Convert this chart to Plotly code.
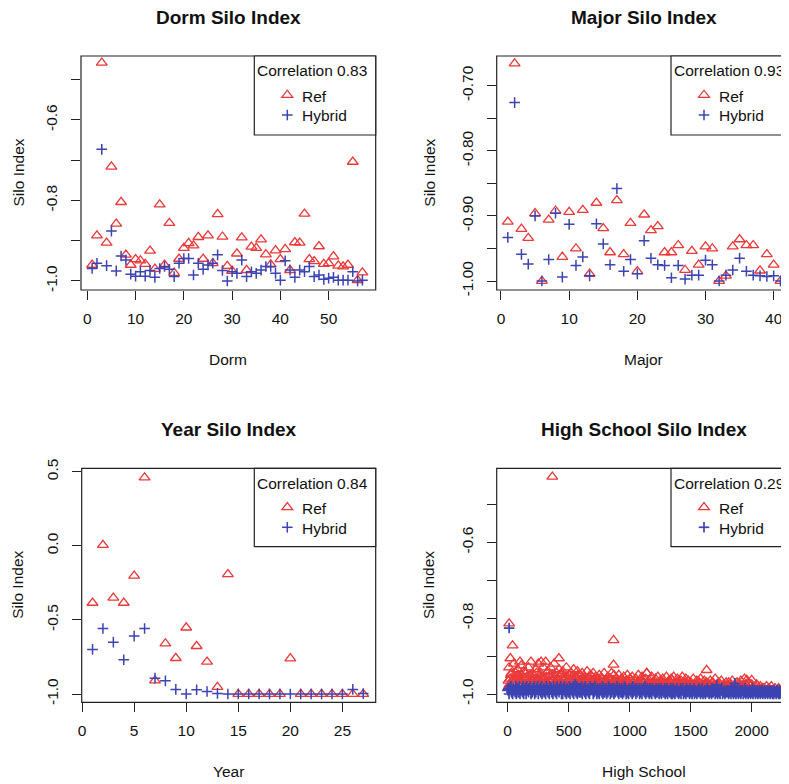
import plotly.graph_objects as go

# The page places the figure 8 px in from the top-left corner (body margin),
# so the figure is 8 px smaller and all pixel positions are shifted by 8.
WIN_W, WIN_H = 789, 784
OFF = 8
W, H = WIN_W - OFF, WIN_H - OFF
FONT = "Liberation Sans, Arial, Helvetica, sans-serif"
RED = "#eb3838"
BLUE = "#3b44b2"

# ---------------- data ----------------
dorm_x = list(range(1, 58))
dorm_ref = [-0.960, -0.887, -0.458, -0.905, -0.716, -0.858, -0.804, -0.935, -0.960, -0.946,
            -0.949, -0.958, -0.925, -0.970, -0.810, -0.960, -0.856, -0.980, -0.945, -0.918,
            -0.906, -0.912, -0.891, -0.945, -0.887, -0.956, -0.834, -0.890, -0.963, -0.975,
            -0.932, -0.892, -0.973, -0.915, -0.918, -0.897, -0.934, -0.959, -0.924, -0.946,
            -0.921, -0.973, -0.904, -0.905, -0.833, -0.946, -0.951, -0.914, -0.958, -0.956,
            -0.939, -0.962, -0.964, -0.960, -0.704, -0.998, -0.979]
dorm_hyb = [-0.969, -0.956, -0.673, -0.962, -0.876, -0.975, -0.938, -0.948, -0.983, -0.988,
            -0.977, -0.988, -0.974, -0.991, -0.969, -0.964, -0.971, -0.989, -0.956, -0.944,
            -0.944, -0.985, -0.956, -0.971, -0.960, -0.956, -0.935, -0.974, -1.000, -0.977,
            -0.981, -0.948, -0.989, -0.977, -0.981, -0.973, -0.964, -0.964, -0.981, -0.998,
            -0.950, -0.973, -0.991, -0.973, -0.977, -0.964, -0.989, -0.985, -0.996, -0.993,
            -0.991, -0.998, -0.998, -0.998, -0.977, -1.000, -0.998]

major_x = list(range(1, 42))
major_ref = [-0.909, -0.666, -0.920, -0.934, -0.896, -1.000, -0.906, -0.892, -0.963, -0.894,
             -0.950, -0.891, -0.989, -0.880, -0.919, -0.956, -0.876, -0.959, -0.911, -0.985,
             -0.898, -0.922, -0.916, -0.956, -0.956, -0.945, -0.983, -0.954, -0.975, -0.947,
             -0.950, -1.000, -0.992, -0.947, -0.936, -0.945, -0.945, -0.984, -0.959, -0.975,
             -1.000]
major_hyb = [-0.933, -0.726, -0.959, -0.974, -0.900, -1.000, -0.967, -0.896, -0.994, -0.913,
             -0.976, -0.963, -0.992, -0.912, -0.943, -0.975, -0.858, -0.985, -0.967, -0.989,
             -0.938, -0.965, -0.975, -0.976, -0.995, -0.976, -0.997, -0.991, -0.991, -0.968,
             -0.975, -1.000, -0.991, -0.983, -0.965, -0.985, -0.991, -0.992, -0.993, -0.992,
             -1.000]

year_x = list(range(1, 28))
year_ref = [-0.385, 0.005, -0.351, -0.385, -0.202, 0.461, -0.909, -0.659, -0.758, -0.552,
            -0.677, -0.783, -0.953, -0.192, -1.000, -1.000, -1.000, -1.000, -1.000, -0.760,
            -1.000, -1.000, -1.000, -1.000, -1.000, -1.000, -1.000]
year_hyb = [-0.699, -0.558, -0.650, -0.769, -0.609, -0.558, -0.893, -0.911, -0.969, -1.000,
            -0.971, -0.983, -0.996, -1.000, -1.000, -1.000, -1.000, -1.000, -1.000, -1.000,
            -1.000, -1.000, -1.000, -1.000, -1.000, -0.969, -0.997]

# High school: values at two interleaved sets of schools,
# plus the visible outliers
hs_x_a = list(range(1, 2242, 10))
hs_ref_a = [
    -0.985, -0.930, -0.960, -0.945, -0.970, -0.920, -0.955, -0.990, -0.935, -0.950, -0.965, -0.925, -0.975, -0.940, -0.960,
    -0.945, -0.980, -0.930, -0.955, -0.915, -0.965, -0.950, -0.985, -0.935, -0.960, -0.920, -0.970, -0.945, -0.955, -0.930,
    -0.960, -0.915, -0.975, -0.940, -0.955, -0.930, -0.965, -0.950, -0.920, -0.985, -0.945, -0.960, -0.935, -0.970, -0.950,
    -0.940, -0.965, -0.955, -0.930, -0.980, -0.950, -0.960, -0.945, -0.970, -0.935, -0.990, -0.955, -0.940, -0.965, -0.950,
    -0.965, -0.945, -0.975, -0.955, -0.985, -0.940, -0.960, -0.970, -0.950, -0.980, -0.945, -0.965, -0.955, -0.975, -0.960,
    -0.950, -0.970, -0.960, -0.985, -0.945, -0.965, -0.975, -0.955, -0.990, -0.960, -0.945, -0.970, -0.950, -0.980, -0.960,
    -0.965, -0.950, -0.980, -0.960, -0.970, -0.955, -0.985, -0.965, -0.950, -0.975, -0.960, -0.990, -0.955, -0.970, -0.965,
    -0.960, -0.975, -0.950, -0.985, -0.965, -0.955, -0.970, -0.980, -0.960, -0.945, -0.975, -0.965, -0.990, -0.955, -0.970,
    -0.970, -0.960, -0.985, -0.955, -0.975, -0.965, -0.990, -0.960, -0.970, -0.980, -0.955, -0.975, -0.965, -0.985, -0.960,
    -0.965, -0.955, -0.980, -0.970, -0.960, -0.990, -0.975, -0.965, -0.955, -0.985, -0.970, -0.960, -0.980, -0.965, -0.975,
    -0.970, -0.985, -0.960, -0.975, -0.990, -0.965, -0.980, -0.970, -0.960, -0.985, -0.975, -0.965, -0.990, -0.970, -0.980,
    -0.975, -0.965, -0.985, -0.970, -0.980, -0.960, -0.990, -0.975, -0.970, -0.985, -0.965, -0.980, -0.975, -0.990, -0.970,
    -0.980, -0.970, -0.990, -0.975, -0.965, -0.985, -0.975, -0.980, -0.970, -0.990, -0.975, -0.965, -0.985, -0.980, -0.960,
    -0.975, -0.985, -0.970, -0.990, -0.980, -0.975, -0.985, -0.995, -0.980, -0.975, -0.990, -0.985, -0.980, -0.990, -0.985,
    -0.985, -0.990, -0.980, -0.995, -0.985, -0.990, -0.980, -0.995, -0.990, -0.985, -0.995, -0.990, -0.985, -0.995, -1.000]
hs_hyb_a = [
    -0.990, -1.000, -0.985, -0.995, -1.000, -0.990, -0.995, -1.000, -0.985, -0.995, -1.000, -0.990, -0.995, -1.000, -0.990,
    -1.000, -0.990, -0.995, -0.985, -1.000, -0.995, -0.990, -1.000, -0.995, -0.985, -1.000, -0.990, -0.995, -1.000, -0.990,
    -0.995, -1.000, -0.990, -0.995, -1.000, -0.985, -0.995, -1.000, -0.990, -0.995, -1.000, -0.990, -0.995, -0.985, -1.000,
    -1.000, -0.990, -0.995, -1.000, -0.990, -0.995, -1.000, -0.985, -0.995, -1.000, -0.990, -0.995, -1.000, -0.990, -0.995,
    -0.995, -1.000, -0.990, -0.995, -1.000, -0.990, -0.995, -1.000, -0.990, -0.985, -1.000, -0.995, -0.990, -1.000, -0.995,
    -1.000, -0.990, -0.995, -1.000, -0.995, -0.990, -1.000, -0.995, -0.990, -1.000, -0.995, -0.985, -1.000, -0.995, -0.990,
    -0.995, -1.000, -0.990, -0.995, -1.000, -0.995, -0.990, -1.000, -0.995, -1.000, -0.990, -0.995, -1.000, -0.995, -0.990,
    -1.000, -0.995, -0.990, -1.000, -0.995, -1.000, -0.990, -0.995, -1.000, -0.995, -0.990, -1.000, -0.995, -1.000, -0.990,
    -0.995, -1.000, -0.995, -0.990, -1.000, -0.995, -1.000, -0.990, -0.995, -1.000, -0.995, -1.000, -0.990, -0.995, -1.000,
    -1.000, -0.995, -1.000, -0.990, -0.995, -1.000, -0.995, -1.000, -0.990, -1.000, -0.995, -1.000, -0.995, -0.990, -1.000,
    -0.995, -1.000, -0.990, -1.000, -0.995, -1.000, -0.995, -0.990, -1.000, -0.995, -1.000, -0.995, -1.000, -0.990, -0.995,
    -1.000, -0.995, -1.000, -0.995, -0.990, -1.000, -0.995, -1.000, -0.995, -1.000, -0.990, -1.000, -0.995, -1.000, -0.995,
    -0.995, -1.000, -0.995, -1.000, -0.990, -1.000, -0.995, -1.000, -0.995, -1.000, -0.995, -1.000, -0.990, -1.000, -0.995,
    -1.000, -0.995, -1.000, -0.995, -1.000, -0.995, -1.000, -0.990, -1.000, -0.995, -1.000, -0.995, -1.000, -0.995, -1.000,
    -0.995, -1.000, -0.995, -1.000, -0.995, -1.000, -0.995, -1.000, -1.000, -0.995, -1.000, -0.995, -1.000, -1.000, -0.995]
hs_x_b = list(range(6, 2242, 10))
hs_ref_b = [
    -0.965, -0.975, -0.950, -0.985, -0.960, -0.970, -0.945, -0.980, -0.955, -0.990, -0.965, -0.950, -0.975, -0.960, -0.985,
    -0.955, -0.970, -0.985, -0.950, -0.965, -0.975, -0.960, -0.990, -0.945, -0.970, -0.980, -0.955, -0.965, -0.985, -0.960,
    -0.970, -0.955, -0.980, -0.965, -0.950, -0.985, -0.960, -0.975, -0.990, -0.955, -0.970, -0.965, -0.980, -0.950, -0.975,
    -0.960, -0.985, -0.970, -0.955, -0.975, -0.990, -0.965, -0.955, -0.980, -0.970, -0.960, -0.985, -0.950, -0.975, -0.965,
    -0.975, -0.965, -0.985, -0.960, -0.970, -0.990, -0.955, -0.980, -0.965, -0.975, -0.985, -0.960, -0.970, -0.990, -0.965,
    -0.980, -0.970, -0.960, -0.990, -0.975, -0.965, -0.985, -0.970, -0.960, -0.980, -0.990, -0.965, -0.975, -0.985, -0.970,
    -0.975, -0.985, -0.965, -0.980, -0.990, -0.970, -0.975, -0.985, -0.965, -0.990, -0.975, -0.980, -0.970, -0.985, -0.975,
    -0.985, -0.970, -0.980, -0.990, -0.975, -0.965, -0.985, -0.980, -0.990, -0.970, -0.985, -0.975, -0.980, -0.990, -0.975,
    -0.980, -0.990, -0.975, -0.985, -0.970, -0.980, -0.990, -0.985, -0.975, -0.980, -0.995, -0.985, -0.975, -0.990, -0.980,
    -0.985, -0.975, -0.990, -0.980, -0.985, -0.995, -0.975, -0.985, -0.990, -0.980, -0.975, -0.990, -0.985, -0.980, -0.995,
    -0.980, -0.990, -0.985, -0.975, -0.995, -0.985, -0.980, -0.990, -0.985, -0.995, -0.980, -0.990, -0.985, -0.975, -0.990,
    -0.985, -0.995, -0.980, -0.990, -0.985, -0.995, -0.990, -0.980, -0.985, -0.995, -0.990, -0.985, -0.980, -0.995, -0.990,
    -0.990, -0.985, -0.995, -0.980, -0.990, -0.995, -0.985, -0.990, -0.995, -0.985, -0.990, -0.980, -0.995, -0.990, -0.985,
    -0.995, -0.990, -0.985, -0.995, -0.990, -1.000, -0.990, -0.985, -0.995, -0.990, -1.000, -0.990, -0.995, -0.985, -0.990,
    -0.995, -0.990, -1.000, -0.995, -0.990, -1.000, -0.995, -0.990, -1.000, -0.995, -1.000, -0.990, -0.995, -1.000]
hs_hyb_b = [
    -0.985, -0.990, -0.980, -0.995, -0.985, -0.990, -0.980, -0.985, -0.995, -0.980, -0.990, -0.985, -0.980, -0.990, -0.985,
    -0.980, -0.990, -0.985, -0.980, -0.995, -0.985, -0.980, -0.990, -0.985, -0.980, -0.990, -0.985, -0.980, -0.995, -0.985,
    -0.990, -0.980, -0.985, -0.990, -0.980, -0.985, -0.995, -0.980, -0.990, -0.985, -0.980, -0.990, -0.985, -0.980, -0.990,
    -0.985, -0.980, -0.990, -0.985, -0.995, -0.980, -0.985, -0.990, -0.980, -0.985, -0.990, -0.980, -0.985, -0.995, -0.985,
    -0.980, -0.990, -0.985, -0.980, -0.990, -0.985, -0.995, -0.980, -0.985, -0.990, -0.985, -0.980, -0.990, -0.985, -0.990,
    -0.985, -0.990, -0.980, -0.985, -0.995, -0.985, -0.990, -0.980, -0.985, -0.990, -0.985, -0.995, -0.985, -0.990, -0.980,
    -0.990, -0.985, -0.995, -0.985, -0.990, -0.980, -0.985, -0.990, -0.995, -0.985, -0.990, -0.985, -0.980, -0.990, -0.985,
    -0.985, -0.990, -0.985, -0.995, -0.985, -0.990, -0.985, -0.980, -0.990, -0.985, -0.995, -0.985, -0.990, -0.985, -0.990,
    -0.990, -0.985, -0.995, -0.985, -0.990, -0.985, -0.990, -0.995, -0.985, -0.990, -0.985, -0.990, -0.995, -0.985, -0.990,
    -0.985, -0.990, -0.995, -0.985, -0.990, -0.995, -0.985, -0.990, -0.985, -0.995, -0.990, -0.985, -0.990, -0.995, -0.985,
    -0.990, -0.995, -0.985, -0.990, -0.995, -0.990, -0.985, -0.995, -0.990, -0.985, -0.995, -0.990, -0.995, -0.985, -0.990,
    -0.995, -0.990, -0.985, -0.995, -0.990, -0.995, -0.985, -0.990, -0.995, -0.990, -0.985, -0.995, -0.990, -0.995, -0.990,
    -0.990, -0.995, -0.990, -0.985, -0.995, -0.990, -0.995, -0.990, -0.985, -0.995, -0.990, -0.995, -0.990, -0.995, -0.985,
    -0.995, -0.990, -0.995, -0.990, -0.995, -0.985, -0.995, -0.990, -0.995, -0.990, -0.995, -0.990, -0.995, -0.990, -0.995,
    -0.990, -0.995, -0.990, -0.995, -0.990, -0.995, -0.990, -0.995, -0.990, -0.995, -0.990, -0.995, -0.990, -0.995]
hs_ref_out_x = [366, 12, 40, 22, 101, 274, 420, 868, 868, 1139, 1631, 1960, 2000]
hs_ref_out = [-0.427, -0.814, -0.872, -0.906, -0.915, -0.915, -0.906, -0.858, -0.923, -0.945, -0.937, -0.963, -0.963]
hs_hyb_out_x = [12, 552, 1713, 1863]
hs_hyb_out = [-0.826, -0.974, -0.976, -0.972]

titles = ["Dorm Silo Index", "Major Silo Index", "Year Silo Index", "High School Silo Index"]
xlabels = ["Dorm", "Major", "Year", "High School"]
correlations = ["0.83", "0.93", "0.84", "0.29"]


# ---------------- layout geometry (window pixels) ----------------
def PX(p):
    return (p - OFF) / W


def PY(p):
    return 1 - (p - OFF) / H


panels = [
    dict(x=dorm_x, ref=dorm_ref, hyb=dorm_hyb, hw=1.5,
         box=(81, 56, 375.7, 290), right_clip=False,
         xr=[-1.305, 59.75], yr=[-1.0224, -0.441],
         xt=[0, 10, 20, 30, 40, 50],
         yt=[-1.0, -0.9, -0.8, -0.7, -0.6, -0.5], ytt=["-1.0", "", "-0.8", "", "-0.6", ""],
         leg=(254.3, 56, 375.7, 135)),
    dict(x=major_x, ref=major_ref, hyb=major_hyb, hw=1.5,
         box=(496.7, 56, 789, 290), right_clip=True,
         xr=[-0.63, 42.25], yr=[-1.0138, -0.6544],
         xt=[0, 10, 20, 30, 40],
         yt=[-1.0, -0.95, -0.9, -0.85, -0.8, -0.75, -0.7],
         ytt=["-1.00", "", "-0.90", "", "-0.80", "", "-0.70"],
         leg=(671, 56, 800, 135)),
    dict(x=year_x, ref=year_ref, hyb=year_hyb, hw=1.5,
         box=(81.7, 468.3, 375.7, 702.3), right_clip=False,
         xr=[-0.04, 28.2], yr=[-1.056, 0.523],
         xt=[0, 5, 10, 15, 20, 25],
         yt=[-1.0, -0.5, 0.0, 0.5], ytt=["-1.0", "-0.5", "0.0", "0.5"],
         leg=(254.3, 468.3, 375.7, 546.7)),
    dict(x=hs_x_a + hs_x_b + hs_ref_out_x, ref=hs_ref_a + hs_ref_b + hs_ref_out,
         hx=hs_x_a + hs_x_b + hs_hyb_out_x, hyb=hs_hyb_a + hs_hyb_b + hs_hyb_out, hw=1.7,
         box=(496.7, 468.3, 789, 702.3), right_clip=True,
         xr=[-90, 2306], yr=[-1.0219, -0.4045],
         xt=[0, 500, 1000, 1500, 2000],
         yt=[-1.0, -0.9, -0.8, -0.7, -0.6, -0.5], ytt=["-1.0", "", "-0.8", "", "-0.6", ""],
         leg=(671, 468.3, 800, 546.7)),
]

fig = go.Figure()
shapes = []
annotations = []
layout = {}

for k, p in enumerate(panels):
    n = "" if k == 0 else str(k + 1)
    xa, ya = "x" + n, "y" + n
    fig.add_trace(go.Scatter(
        x=p["x"], y=p["ref"], xaxis=xa, yaxis=ya, mode="markers", name="Ref",
        showlegend=False,
        marker=dict(symbol="triangle-up-open", size=9.5, color=RED,
                    line=dict(color=RED, width=1.3))))
    fig.add_trace(go.Scatter(
        x=p.get("hx", p["x"]), y=p["hyb"], xaxis=xa, yaxis=ya, mode="markers", name="Hybrid",
        showlegend=False,
        marker=dict(symbol="cross-thin-open", size=7.6, color=BLUE,
                    line=dict(color=BLUE, width=p["hw"]))))

    x0, y0, x1, y1 = p["box"]
    tickfont = dict(family=FONT, size=15.5, color="#111")
    layout["xaxis" + n] = dict(
        domain=[PX(x0), PX(x1)], range=p["xr"], anchor=ya,
        showgrid=False, zeroline=False, showline=False,
        tickmode="array", tickvals=p["xt"], ticks="outside", ticklen=9,
        tickwidth=1.1, tickcolor="#222", tickfont=tickfont, ticklabelstandoff=5)
    layout["yaxis" + n] = dict(
        domain=[PY(y1), PY(y0)], range=p["yr"], anchor=xa,
        showgrid=False, zeroline=False, showline=False,
        tickmode="array", tickvals=p["yt"], ticktext=p["ytt"], ticks="outside", ticklen=9,
        tickwidth=1.1, tickcolor="#222", tickfont=tickfont, tickangle=-90,
        ticklabelstandoff=8)

    # plot frame
    rx1 = 1.02 if p["right_clip"] else PX(x1)
    shapes.append(dict(type="rect", xref="paper", yref="paper",
                       x0=PX(x0), x1=rx1, y0=PY(y1), y1=PY(y0),
                       line=dict(color="#222", width=1.2)))

    cx = (x0 + (x1 + 2 if p["right_clip"] else x1)) / 2
    cy = (y0 + y1) / 2
    # main title
    annotations.append(dict(xref="paper", yref="paper", x=PX(cx), y=PY(y0 - 38.5),
                            text="<b>" + titles[k] + "</b>", showarrow=False,
                            xanchor="center", yanchor="middle",
                            font=dict(family=FONT, size=19, color="#111")))
    # x label
    annotations.append(dict(xref="paper", yref="paper", x=PX(cx), y=PY(y1 + 69.5),
                            text=xlabels[k], showarrow=False,
                            xanchor="center", yanchor="middle",
                            font=dict(family=FONT, size=15.5, color="#111")))
    # y label
    annotations.append(dict(xref="paper", yref="paper", x=PX(max(x0 - 68, 17.5)), y=PY(cy),
                            text="Silo Index", showarrow=False, textangle=-90,
                            xanchor="center", yanchor="middle",
                            font=dict(family=FONT, size=15.5, color="#111")))

    # legend box
    lx0, ly0, lx1, ly1 = p["leg"]
    shapes.append(dict(type="rect", xref="paper", yref="paper",
                       x0=PX(lx0), x1=PX(lx1), y0=PY(ly1), y1=PY(ly0),
                       line=dict(color="#222", width=1.2), fillcolor="white"))
    annotations.append(dict(xref="paper", yref="paper", x=PX(lx0 + 0.5), y=PY(ly0 + 14.8),
                            text="Correlation " + correlations[k], showarrow=False,
                            xanchor="left", yanchor="middle",
                            font=dict(family=FONT, size=15.5, color="#111")))
    for j, (lab, col) in enumerate([("Ref", RED), ("Hybrid", BLUE)]):
        ry = ly0 + 40 + 20 * j
        annotations.append(dict(xref="paper", yref="paper", x=PX(lx0 + 46), y=PY(ry),
                                text=lab, showarrow=False, xanchor="left", yanchor="middle",
                                font=dict(family=FONT, size=15.5, color="#111")))
        mx = lx0 + 33
        my = ry - 1
        if j == 0:
            path = "M{:.5f},{:.5f} L{:.5f},{:.5f} L{:.5f},{:.5f} Z".format(
                PX(mx - 5.5), PY(my + 2.4), PX(mx + 5.5), PY(my + 2.4), PX(mx), PY(my - 4.8))
            shapes.append(dict(type="path", xref="paper", yref="paper", path=path,
                               line=dict(color=RED, width=1.3)))
        else:
            lw = p["hw"]
            shapes.append(dict(type="line", xref="paper", yref="paper",
                               x0=PX(mx - 5.3), x1=PX(mx + 5.3), y0=PY(my), y1=PY(my),
                               line=dict(color=BLUE, width=lw)))
            shapes.append(dict(type="line", xref="paper", yref="paper",
                               x0=PX(mx), x1=PX(mx), y0=PY(my - 5.3), y1=PY(my + 5.3),
                               line=dict(color=BLUE, width=lw)))

fig.update_layout(
    width=W, height=H,
    margin=dict(l=0, r=0, t=0, b=0, autoexpand=False),
    paper_bgcolor="white", plot_bgcolor="white",
    showlegend=False,
    shapes=shapes, annotations=annotations,
    **layout)

fig.write_html("out.html")
